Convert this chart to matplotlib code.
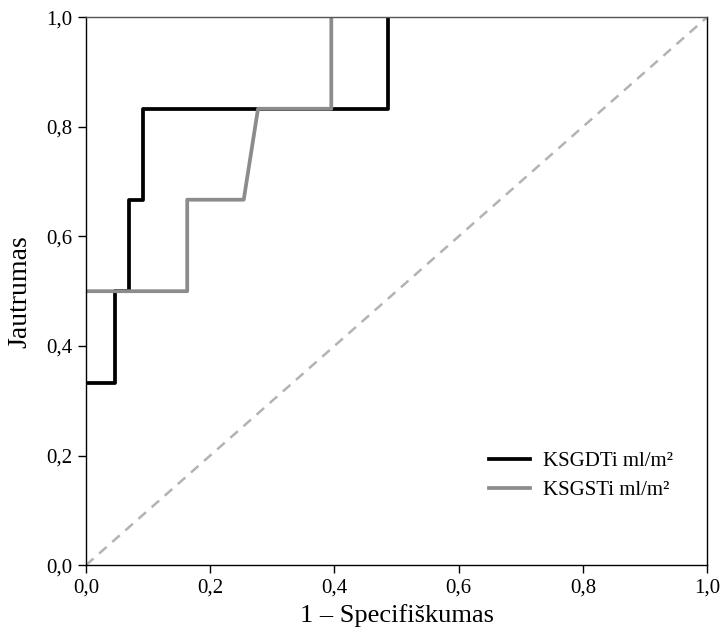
import matplotlib
matplotlib.use("Agg")
import matplotlib.pyplot as plt
from matplotlib.ticker import FuncFormatter

plt.rcParams['font.family'] = ['Liberation Serif', 'DejaVu Serif']

# ROC points (1 - specificity, sensitivity)
gd_x = [0.0, 0.047, 0.047, 0.069, 0.069, 0.092, 0.092, 0.486, 0.486]
gd_y = [0.333, 0.333, 0.5, 0.5, 0.667, 0.667, 0.833, 0.833, 1.0]
gs_x = [0.0, 0.163, 0.163, 0.254, 0.277, 0.395, 0.395]
gs_y = [0.5, 0.5, 0.667, 0.667, 0.833, 0.833, 1.0]
labels = ['KSGDTi ml/m²', 'KSGSTi ml/m²']
ticks = [0.0, 0.2, 0.4, 0.6, 0.8, 1.0]

fig = plt.figure(figsize=(7.25, 6.4), dpi=100)
ax = fig.add_axes([0.1186, 0.117, 0.8566, 0.856])

ax.plot([0, 1], [0, 1], color='#b3b3b3', lw=1.8, ls=(0, (4, 3)))
ax.plot(gd_x, gd_y, color='black', lw=2.7, label=labels[0])
ax.plot(gs_x, gs_y, color='#8c8c8c', lw=2.7, label=labels[1])

ax.set_xlim(0, 1)
ax.set_ylim(0, 1)
ax.set_xticks(ticks)
ax.set_yticks(ticks)
fmt = FuncFormatter(lambda v, p: ('%.1f' % v).replace('.', ','))
ax.xaxis.set_major_formatter(fmt)
ax.yaxis.set_major_formatter(fmt)
ax.tick_params(direction='out', length=6, width=1, labelsize=15, pad=4)
for s in ax.spines.values():
    s.set_linewidth(1)
ax.spines['top'].set_color('#555555')

ax.set_xlabel('1 – Specifiškumas', fontsize=19, labelpad=4)
ax.set_ylabel('Jautrumas', fontsize=20, labelpad=10)

ax.legend(loc='lower right', bbox_to_anchor=(0.975, 0.085), frameon=False,
          fontsize=15, handlelength=2.0, handletextpad=0.6, labelspacing=0.45)

fig.savefig('out.png', dpi=100)
